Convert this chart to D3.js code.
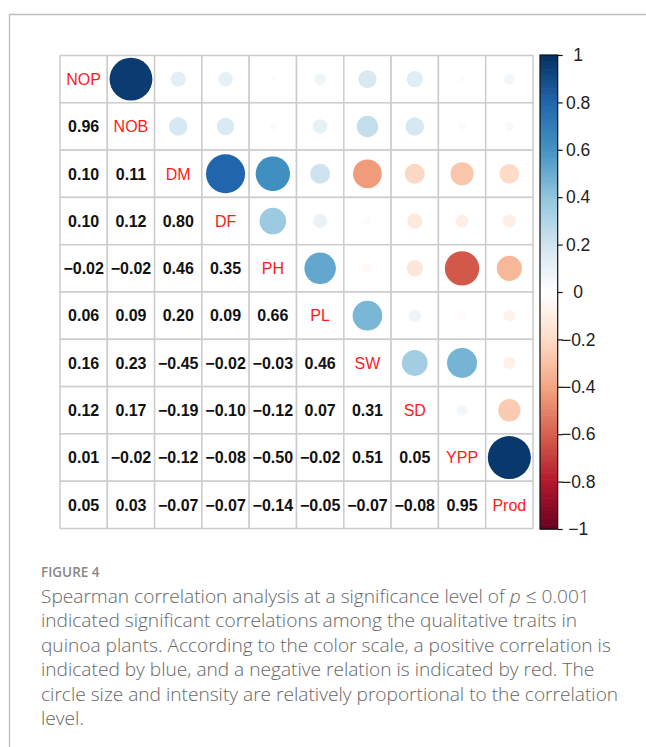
<!DOCTYPE html>
<html>
<head>
<meta charset="utf-8">
<script src="https://cdn.jsdelivr.net/npm/d3@7"></script>
<style>
  html, body { margin: 0; padding: 0; background: #fff; }
  svg { display: block; }
</style>
</head>
<body>
<svg id="chart" width="646" height="747"></svg>
<script>
// ---------- data ----------
const variables = ["NOP", "NOB", "DM", "DF", "PH", "PL", "SW", "SD", "YPP", "Prod"];

// lower triangle (printed coefficients), row by row
const lowerValues = [
  [],
  [0.96],
  [0.10, 0.11],
  [0.10, 0.12, 0.80],
  [-0.02, -0.02, 0.46, 0.35],
  [0.06, 0.09, 0.20, 0.09, 0.66],
  [0.16, 0.23, -0.45, -0.02, -0.03, 0.46],
  [0.12, 0.17, -0.19, -0.10, -0.12, 0.07, 0.31],
  [0.01, -0.02, -0.12, -0.08, -0.50, -0.02, 0.51, 0.05],
  [0.05, 0.03, -0.07, -0.07, -0.14, -0.05, -0.07, -0.08, 0.95]
];

// upper triangle (circles), row by row, columns to the right of the diagonal
const circleValues = [
  [0.96, 0.12, 0.11, -0.02, 0.07, 0.17, 0.14, 0.02, 0.06],
  [0.18, 0.16, -0.03, 0.11, 0.24, 0.18, -0.03, 0.04],
  [0.80, 0.62, 0.21, -0.43, -0.21, -0.28, -0.20],
  [0.37, 0.10, -0.03, -0.12, -0.09, -0.09],
  [0.52, -0.04, -0.14, -0.62, -0.33],
  [0.46, 0.08, -0.03, -0.07],
  [0.35, 0.47, -0.08],
  [0.06, -0.26],
  [0.97],
  []
];

const legendTicks = [1, 0.8, 0.6, 0.4, 0.2, 0, -0.2, -0.4, -0.6, -0.8, -1];
const paletteStops = [-1, -0.8, -0.6, -0.4, -0.2, 0, 0.2, 0.4, 0.6, 0.8, 1];
const paletteColors = ["#67001F", "#B2182B", "#D6604D", "#F4A582", "#FDDBC7", "#FFFFFF",
                       "#D1E5F0", "#92C5DE", "#4393C3", "#2166AC", "#053061"];

const figureLabel = "FIGURE 4";
const captionLines = [
  ["Spearman correlation analysis at a significance level of ", {i: "p"}, " ≤ 0.001"],
  ["indicated significant correlations among the qualitative traits in"],
  ["quinoa plants. According to the color scale, a positive correlation is"],
  ["indicated by blue, and a negative relation is indicated by red. The"],
  ["circle size and intensity are relatively proportional to the correlation"],
  ["level."]
];

// ---------- layout ----------
const svg = d3.select("#chart");
const G = {x0: 60, y0: 55.5, size: 473};
const CB = {x: 540, w: 17.7, y0: 55, y1: 529};

svg.append("rect").attr("width", 646).attr("height", 747).attr("fill", "#fff");
// figure frame (top and left rule)
svg.append("path")
  .attr("d", "M9.5,747 V14.5 H646")
  .attr("fill", "none").attr("stroke", "#bdbdbd").attr("stroke-width", 1.3);

const x = d3.scaleBand().domain(variables).range([G.x0, G.x0 + G.size]);
const y = d3.scaleBand().domain(variables).range([G.y0, G.y0 + G.size]);
const color = d3.scaleLinear().domain(paletteStops).range(paletteColors).interpolate(d3.interpolateRgb);
const rScale = d3.scaleSqrt().domain([0, 1]).range([0, x.bandwidth() * 0.462]);
const fmt = d3.format(".2f");

// cells
const cells = [];
variables.forEach((rv, i) => variables.forEach((cv, j) => cells.push({rv, cv, i, j})));

svg.append("g").selectAll("rect").data(cells).join("rect")
  .attr("x", d => x(d.cv)).attr("y", d => y(d.rv))
  .attr("width", x.bandwidth()).attr("height", y.bandwidth())
  .attr("fill", "#fff").attr("stroke", "#cccccc").attr("stroke-width", 1.5);

// circles (upper)
const circ = [];
circleValues.forEach((row, i) => row.forEach((v, k) => circ.push({rv: variables[i], cv: variables[i + 1 + k], v})));
svg.append("g").selectAll("circle").data(circ).join("circle")
  .attr("cx", d => x(d.cv) + x.bandwidth() / 2)
  .attr("cy", d => y(d.rv) + y.bandwidth() / 2)
  .attr("r", d => rScale(Math.abs(d.v)))
  .attr("fill", d => color(d.v));

// numbers (lower)
const nums = [];
lowerValues.forEach((row, i) => row.forEach((v, j) => nums.push({rv: variables[i], cv: variables[j], v})));
svg.append("g").selectAll("text").data(nums).join("text")
  .attr("x", d => x(d.cv) + x.bandwidth() / 2)
  .attr("y", d => y(d.rv) + y.bandwidth() / 2)
  .attr("dy", "0.36em")
  .attr("text-anchor", "middle")
  .attr("font-family", "'Liberation Sans', Arial, Helvetica, sans-serif")
  .attr("font-weight", "bold").attr("font-size", 16).attr("fill", "#111")
  .text(d => fmt(d.v));

// diagonal labels
svg.append("g").selectAll("text").data(variables).join("text")
  .attr("x", d => x(d) + x.bandwidth() / 2)
  .attr("y", d => y(d) + y.bandwidth() / 2)
  .attr("dy", "0.36em")
  .attr("text-anchor", "middle")
  .attr("font-family", "'Liberation Sans', Arial, Helvetica, sans-serif")
  .attr("font-size", 16).attr("fill", "#ff1a1a")
  .text(d => d);

// color bar
const cbY = d3.scaleLinear().domain([-1, 1]).range([CB.y1, CB.y0]);
const bins = d3.range(-1, 1, 0.01);
svg.append("g").selectAll("rect").data(bins).join("rect")
  .attr("x", CB.x).attr("width", CB.w)
  .attr("y", d => cbY(d + 0.01))
  .attr("height", d => cbY(d) - cbY(d + 0.01) + 0.6)
  .attr("fill", d => color(d + 0.005));
svg.append("rect")
  .attr("x", CB.x).attr("y", CB.y0).attr("width", CB.w).attr("height", CB.y1 - CB.y0)
  .attr("fill", "none").attr("stroke", "#111").attr("stroke-width", 1.2);

const axisG = svg.append("g")
  .attr("transform", `translate(${CB.x + CB.w},0)`)
  .call(d3.axisRight(cbY).tickValues(legendTicks).tickSize(5).tickPadding(3)
    .tickFormat(d => d === 0 ? "0" : d3.format(".1~f")(d)));
axisG.select(".domain").remove();
axisG.selectAll(".tick line").attr("stroke", "#111").attr("stroke-width", 1.2);
axisG.selectAll(".tick text")
  .attr("x", 20.5).attr("text-anchor", "middle")
  .attr("font-family", "'Liberation Sans', Arial, Helvetica, sans-serif")
  .attr("font-size", 17.5).attr("fill", "#222");

// caption
const capFont = "'Open Sans', Lato, sans-serif";
svg.append("text")
  .attr("x", 41).attr("y", 577)
  .attr("font-family", capFont).attr("font-size", 13.5).attr("font-weight", 600)
  .attr("fill", "#888")
  .text(figureLabel);

const capG = svg.append("g");
const capTexts = captionLines.map((parts, li) => {
  const t = capG.append("text")
    .attr("x", 41).attr("y", 603 + li * 24.4)
    .attr("font-family", capFont).attr("font-size", 17).attr("font-weight", 300)
    .attr("fill", "#666");
  parts.forEach(p => {
    if (typeof p === "string") t.append("tspan").text(p);
    else t.append("tspan").attr("font-style", "italic").text(p.i);
  });
  return t;
});
// fit caption font so the first line spans the same width as in the figure
const w0 = capTexts[0].node().getComputedTextLength();
if (w0 > 0) {
  const fs = 17 * 549 / w0;
  capTexts.forEach(t => t.attr("font-size", fs));
}
</script>
</body>
</html>
